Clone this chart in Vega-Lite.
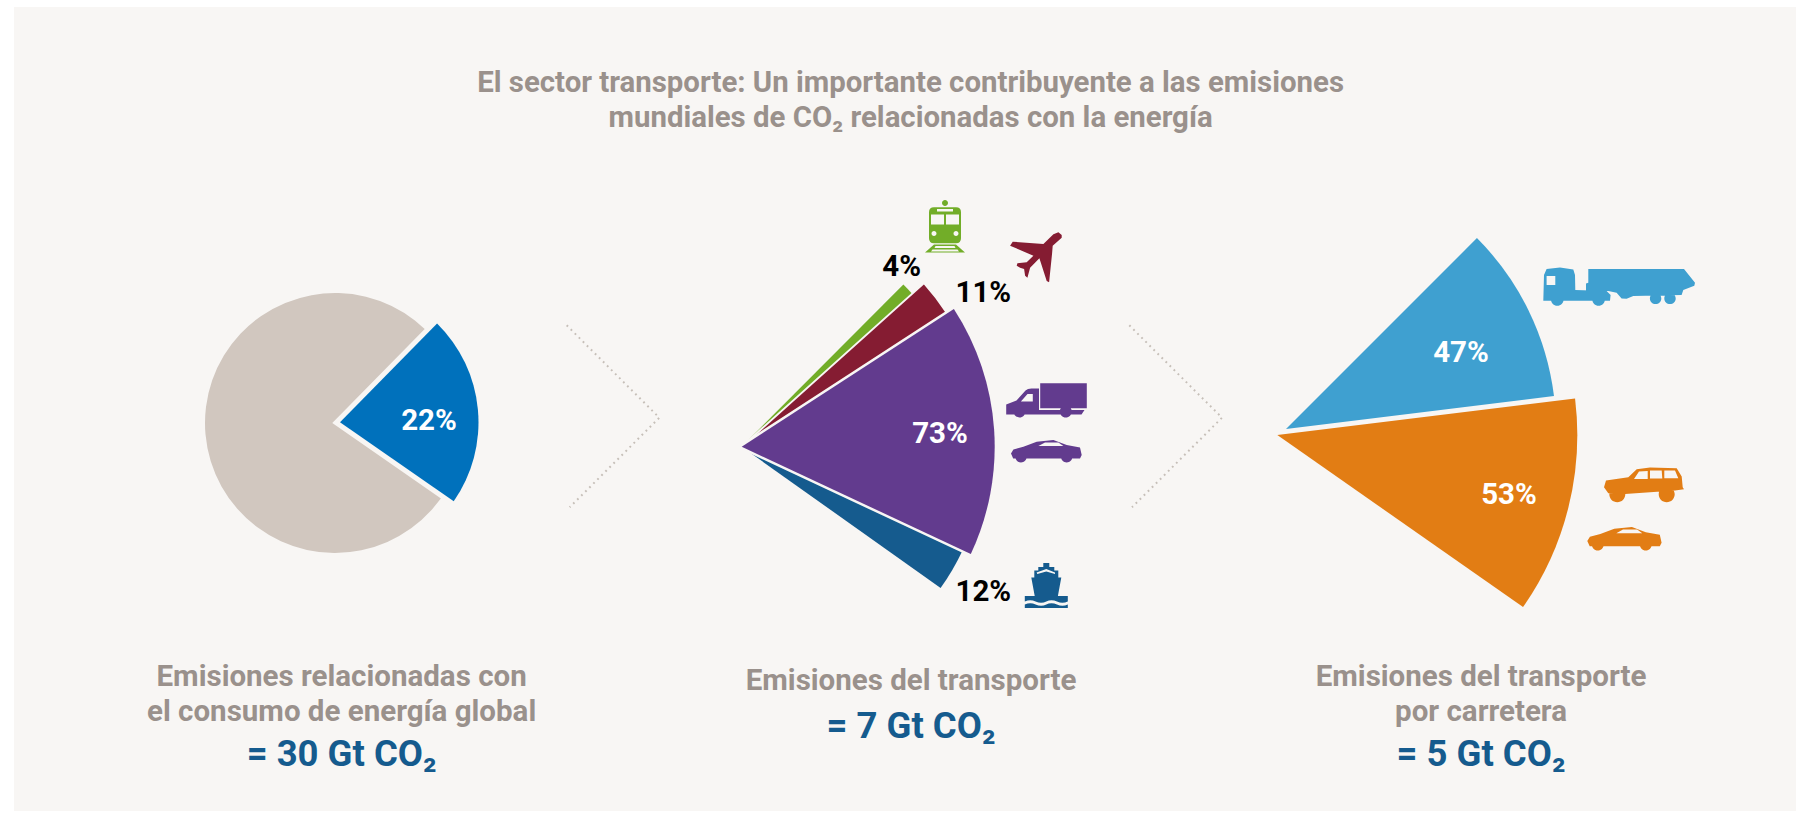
{
"$schema":"https://vega.github.io/schema/vega-lite/v6.json",
"width":1782,"height":804,
"padding":{"left":14,"top":7,"right":0,"bottom":2},
"autosize":{"type":"none"},
"background":"#ffffff",
"view":{"fill":"#f8f6f4","stroke":null},
"config":{"font":"Roboto"},
"datasets":{
"slices":[
{"slot":1,"pie":"Emisiones globales","name":"Otras emisiones","share":78,"from":22,"to":100},
{"slot":2,"pie":"Emisiones globales","name":"Transporte","share":22,"from":0,"to":22},
{"slot":3,"pie":"Transporte","name":"Ferrocarril","share":4,"from":0,"to":4},
{"slot":4,"pie":"Transporte","name":"Aviación","share":11,"from":4,"to":15},
{"slot":6,"pie":"Transporte","name":"Marítimo","share":12,"from":88,"to":100},
{"slot":5,"pie":"Transporte","name":"Carretera","share":73,"from":15,"to":88},
{"slot":7,"pie":"Carretera","name":"Vehículos pesados","share":47,"from":0,"to":47},
{"slot":8,"pie":"Carretera","name":"Vehículos ligeros","share":53,"from":47,"to":100}
],
"pct":[
{"slot":1,"label":"22%","tone":"light"},
{"slot":2,"label":"73%","tone":"light"},
{"slot":3,"label":"4%","tone":"dark"},
{"slot":4,"label":"11%","tone":"dark"},
{"slot":5,"label":"12%","tone":"dark"},
{"slot":6,"label":"47%","tone":"light"},
{"slot":7,"label":"53%","tone":"light"}
],
"titles":[
{"slot":1,"label":"El sector transporte: Un importante contribuyente a las emisiones"},
{"slot":2,"label":"mundiales de CO₂ relacionadas con la energía"}
],
"captions":[
{"slot":1,"label":"Emisiones relacionadas con"},
{"slot":2,"label":"el consumo de energía global"},
{"slot":3,"label":"Emisiones del transporte"},
{"slot":4,"label":"Emisiones del transporte"},
{"slot":5,"label":"por carretera"}
],
"totals":[
{"slot":1,"label":"= 30 Gt CO₂"},
{"slot":2,"label":"= 7 Gt CO₂"},
{"slot":3,"label":"= 5 Gt CO₂"}
],
"chevrons":[
{"slot":1,"chevron":"a"},{"slot":2,"chevron":"a"},{"slot":3,"chevron":"a"},
{"slot":4,"chevron":"b"},{"slot":5,"chevron":"b"},{"slot":6,"chevron":"b"}
],
"icons":[
{"slot":1,"icon":"train"},{"slot":2,"icon":"plane"},{"slot":3,"icon":"truck"},{"slot":4,"icon":"car"},
{"slot":5,"icon":"ship"},{"slot":6,"icon":"tanker"},{"slot":7,"icon":"suv"},{"slot":8,"icon":"orangecar"}
]
},
"layer":[
{"data":{"name":"chevrons"},
 "mark":{"type":"line","stroke":"#c6bfb8","strokeWidth":2,"strokeDash":[1.8,3.9],"clip":false},
 "encoding":{
  "x":{"field":"slot","type":"quantitative","axis":null,"scale":{"domain":[1,2,3,4,5,6],"range":[552.7,645.3,555.7,1115.3,1208,1118],"zero":false,"nice":false}},
  "y":{"field":"slot","type":"quantitative","axis":null,"scale":{"domain":[1,2,3,4,5,6],"range":[318.3,410.7,500.3,318.3,410.7,500.3],"zero":false,"nice":false}},
  "detail":{"field":"chevron"},
  "order":{"field":"slot"}
 }},
{"data":{"name":"slices"},
 "encoding":{
  "x":{"field":"slot","type":"quantitative","axis":null,"scale":{"domain":[1,2,3,4,5,6,7,8],"range":[321,326,727.7,727.7,727.7,727.7,1272,1263.3],"zero":false,"nice":false}},
  "y":{"field":"slot","type":"quantitative","axis":null,"scale":{"domain":[1,2,3,4,5,6,7,8],"range":[416,415.3,439.7,439.7,439.7,439.7,422,428],"zero":false,"nice":false}},
  "radius":{"field":"slot","type":"quantitative","legend":null,"scale":{"type":"linear","domain":[1,2,3,4,5,6,7,8],"range":[130,138.5,229,245,253,244,270,300],"zero":false,"nice":false}},
  "radius2":{"value":0},
  "color":{"field":"name","type":"nominal","legend":null,"scale":{"domain":["Otras emisiones","Transporte","Ferrocarril","Aviación","Carretera","Marítimo","Vehículos pesados","Vehículos ligeros"],"range":["#d1c7bf","#0071bc","#72ad28","#851c32","#623b8e","#155b8e","#3fa0d0","#e27d14"]}},
  "theta":{"field":"from","type":"quantitative"},
  "theta2":{"field":"to"}
 },
 "layer":[
  {"transform":[{"filter":"datum.slot==1"}],"mark":{"type":"arc"},
   "encoding":{"theta":{"field":"from","type":"quantitative","scale":{"domain":[22,100],"range":[2.094,7.156]}}}},
  {"transform":[{"filter":"datum.slot==2"}],"mark":{"type":"arc","stroke":"#f8f6f4","strokeWidth":10},
   "encoding":{"theta":{"field":"from","type":"quantitative","scale":{"domain":[0,22],"range":[0.7767,2.178]}}}},
  {"transform":[{"filter":"datum.slot==2"}],"mark":{"type":"arc"},
   "encoding":{"theta":{"field":"from","type":"quantitative","scale":{"domain":[0,22],"range":[0.7767,2.178]}}}},
  {"transform":[{"filter":"datum.slot==3"}],"mark":{"type":"arc"},
   "encoding":{"theta":{"field":"from","type":"quantitative","scale":{"domain":[0,4,15,88,100],"range":[0.7837,0.8395,0.9948,2.0089,2.1886]}}}},
  {"transform":[{"filter":"datum.slot==4"}],"mark":{"type":"arc","stroke":"#f8f6f4","strokeWidth":2},
   "encoding":{"theta":{"field":"from","type":"quantitative","scale":{"domain":[0,4,15,88,100],"range":[0.7837,0.8395,0.9948,2.0089,2.1886]}}}},
  {"transform":[{"filter":"datum.slot==6"}],"mark":{"type":"arc"},
   "encoding":{"theta":{"field":"from","type":"quantitative","scale":{"domain":[0,4,15,88,100],"range":[0.7837,0.8395,0.9948,2.0089,2.1886]}}}},
  {"transform":[{"filter":"datum.slot==5"}],"mark":{"type":"arc","stroke":"#f8f6f4","strokeWidth":5},
   "encoding":{"theta":{"field":"from","type":"quantitative","scale":{"domain":[0,4,15,88,100],"range":[0.7837,0.8395,0.9948,2.0089,2.1886]}}}},
  {"transform":[{"filter":"datum.slot==5"}],"mark":{"type":"arc"},
   "encoding":{"theta":{"field":"from","type":"quantitative","scale":{"domain":[0,4,15,88,100],"range":[0.7837,0.8395,0.9948,2.0089,2.1886]}}}},
  {"transform":[{"filter":"datum.slot>=7"}],"mark":{"type":"arc"},
   "encoding":{"theta":{"field":"from","type":"quantitative","scale":{"domain":[0,47,100],"range":[0.7854,1.4486,2.1817]}}}}
 ],
 "resolve":{"scale":{"theta":"independent"}}
},
{"data":{"name":"icons"},
 "mark":{"type":"point","filled":true,"size":4,"opacity":1,"strokeWidth":0},
 "encoding":{
  "x":{"field":"slot","type":"quantitative","axis":null,"scale":{"domain":[1,2,3,4,5,6,7,8],"range":[931,1022.4,1032.5,1032.2,1032.3,1604.8,1630,1610.3],"zero":false,"nice":false}},
  "y":{"field":"slot","type":"quantitative","axis":null,"scale":{"domain":[1,2,3,4,5,6,7,8],"range":[219.5,250.5,393.4,444.4,578.5,279.7,477.8,531.9],"zero":false,"nice":false}},
  "color":{"field":"icon","type":"nominal","legend":null,"scale":{"domain":["train","plane","truck","car","ship","tanker","suv","orangecar"],"range":["#72ad28","#851c32","#623b8e","#623b8e","#155b8e","#3fa0d0","#e27d14","#e27d14"]}},
  "shape":{"field":"icon","type":"nominal","legend":null,"scale":{"domain":["train","plane","truck","car","ship","tanker","suv","orangecar"],"range":[
"M-11,-19.3 H11 Q16,-19.3 16,-14.3 V11.7 Q16,16.7 11,16.7 H-11 Q-16,16.7 -16,11.7 V-14.3 Q-16,-19.3 -11,-19.3 Z M-14,-12 V-2 H-1 V-12 Z M1,-12 V-2 H14 V-12 Z M-8,-17.5 V-15 H8 V-17.5 Z M-13.5,7 a2.5,2.5 0 1 0 5,0 a2.5,2.5 0 1 0 -5,0 Z M8.5,7 a2.5,2.5 0 1 0 5,0 a2.5,2.5 0 1 0 -5,0 Z M-3,-23.5 a3,3 0 1 1 6,0 a3,3 0 1 1 -6,0 Z M-11,18 L11,18 L20,26 L-20,26 Z M-9.5,19.5 L-10.5,21.5 L10.5,21.5 L9.5,19.5 Z M-12.5,23 L-14,25 L14,25 L12.5,23 Z",
"M22,-25.2 L25.3,-22.5 L25.3,-19.8 L16.3,-11.8 L15.7,-4.2 L12.7,24.8 L10.3,23.5 L3,0.8 L-6.3,10.2 L-9,20.2 L-11.3,18.2 L-12.3,11.5 L-16.3,10.2 L-19.7,8.2 L-19,5.8 L-9.7,4.8 L-3,-1.8 L-26.3,-11.8 L-23.7,-15.8 L7,-13.5 L17,-23.2 Z",
"M-6.3,-17.2 H40.3 V7.8 H-6.3 Z M-40.3,4 L-30,0 L-21,-10 Q-19,-12 -15,-12 H-7.5 V9.5 H38 L35,14 H-40.3 Z M-25.6,1.2 H-13.7 V-6.5 H-19 Z M-33,11 a6,6 0 1 1 12,0 a6,6 0 1 1 -12,0 Z M13.3,11 a6,6 0 1 1 12,0 a6,6 0 1 1 -12,0 Z",
"M-35.2,2 L-32.8,-2 L-22.8,-4.7 L-9.5,-9.7 L7.2,-11.3 L20.5,-6.3 L33.8,-4 L35.5,3.7 L33.8,7 L-33,7 Z M-7.8,-5.3 H17.2 L12.2,-9 H-1.2 Z M-30.9,5.3 a5.7,5.7 0 1 1 11.4,0 a5.7,5.7 0 1 1 -11.4,0 Z M14.8,5.3 a5.7,5.7 0 1 1 11.4,0 a5.7,5.7 0 1 1 -11.4,0 Z",
"M-3,-22.5 H3 V-18.5 H8 V-15 H12 V-8 H15 L11.5,11 H-11.5 L-15,-8 H-12 V-15 H-8 V-18.5 H-3 Z M-9,-11.5 L0,-14 L8.7,-11.5 L8.7,-13 L0,-16.5 L-9.7,-13 Z M-21.5,10.5 H21.5 V16 Q16,18.5 10.7,16 Q5,13.5 0,16 Q-5,18.5 -10.7,16 Q-16,13.5 -21.5,16 Z M-21.5,19 Q-16,16.5 -10.7,19 Q-5,21.5 0,19 Q5,16.5 10.7,19 Q16,21.5 21.5,19 V22.5 H-21.5 Z",
"M-75.5,14 L-74.8,-11.7 L-72.2,-17.7 L-58.8,-19.3 L-45.5,-17.3 L-43.8,-11.7 L-43.5,3.3 L-12.2,4.3 L-8.2,8.3 L-8.8,14 Z M-72.2,-10.7 V-1.7 H-63.5 V-10.7 Z M-67.8,12.7 a6.3,6.3 0 1 1 12.6,0 a6.3,6.3 0 1 1 -12.6,0 Z M-26.5,12.7 a6.3,6.3 0 1 1 12.6,0 a6.3,6.3 0 1 1 -12.6,0 Z M-30.5,-17.7 L65.2,-17.7 L76.2,-4 L75.5,-1 L64.5,3.3 L62.8,8.3 L14.5,9.3 L7.8,12 L2.8,11.7 L-2.2,6 L-10.5,4.3 L-32.8,4 L-32.8,-3.3 L-30.5,-4 Z M31.1,11.7 a5.7,5.7 0 1 1 11.4,0 a5.7,5.7 0 1 1 -11.4,0 Z M45.5,11.7 a5.7,5.7 0 1 1 11.4,0 a5.7,5.7 0 1 1 -11.4,0 Z",
"M-40,2.5 L-38,-4.2 L-15.7,-7.5 L-7.3,-15.5 L6,-17.2 L32.7,-16.5 L37.7,-8.2 L38.7,2.5 L40,4.5 L31,5.8 L-19,9.2 L-35.7,8.5 Z M-10,-5.8 L3.7,-5.8 L3.7,-13.8 L-5,-13.2 Z M6,-6.2 L18.3,-6.2 L17.7,-14.2 L6,-14.2 Z M20.3,-6.5 L34.3,-6.5 L31,-14.2 L20.3,-14.2 Z M-34.7,9.5 a8,8 0 1 1 16,0 a8,8 0 1 1 -16,0 Z M14.7,9.5 a8,8 0 1 1 16,0 a8,8 0 1 1 -16,0 Z",
"M-37,2.1 L-34.4,-2.1 L-24,-5 L-10,-10.2 L7.6,-11.9 L21.5,-6.6 L35.5,-4.2 L37.3,3.9 L35.5,7.4 L-34.6,7.4 Z M-8,-5.6 H18 L12.8,-9.5 H-1.3 Z M-32.5,5.7 a6,6 0 1 1 12,0 a6,6 0 1 1 -12,0 Z M15.5,5.7 a6,6 0 1 1 12,0 a6,6 0 1 1 -12,0 Z"
]}}
 }},
{"data":{"name":"pct"},
 "mark":{"type":"text","font":"Roboto","fontWeight":"bold","fontSize":29.5,"align":"center","baseline":"middle"},
 "encoding":{
  "x":{"field":"slot","type":"quantitative","axis":null,"scale":{"domain":[1,2,3,4,5,6,7],"range":[415,926,887.7,969.3,969.3,1447,1495],"zero":false,"nice":false}},
  "y":{"field":"slot","type":"quantitative","axis":null,"scale":{"domain":[1,2,3,4,5,6,7],"range":[414,427,260,286,585,346,488],"zero":false,"nice":false}},
  "text":{"field":"label"},
  "color":{"field":"tone","type":"nominal","legend":null,"scale":{"domain":["light","dark"],"range":["#ffffff","#000000"]}}
 }},
{"data":{"name":"titles"},
 "mark":{"type":"text","font":"Roboto","fontWeight":"bold","fontSize":29.4,"align":"center","baseline":"middle","color":"#9a918c"},
 "encoding":{
  "x":{"field":"slot","type":"quantitative","axis":null,"scale":{"domain":[1,2],"range":[896.6,896.6],"zero":false,"nice":false}},
  "y":{"field":"slot","type":"quantitative","axis":null,"scale":{"domain":[1,2],"range":[76,111],"zero":false,"nice":false}},
  "text":{"field":"label"}
 }},
{"data":{"name":"captions"},
 "mark":{"type":"text","font":"Roboto","fontWeight":"bold","fontSize":29.5,"align":"center","baseline":"middle","color":"#9a918c"},
 "encoding":{
  "x":{"field":"slot","type":"quantitative","axis":null,"scale":{"domain":[1,2,3,4,5],"range":[327.6,327.6,897,1467,1467],"zero":false,"nice":false}},
  "y":{"field":"slot","type":"quantitative","axis":null,"scale":{"domain":[1,2,3,4,5],"range":[669.7,704.7,674,669.7,704.7],"zero":false,"nice":false}},
  "text":{"field":"label"}
 }},
{"data":{"name":"totals"},
 "mark":{"type":"text","font":"Roboto","fontWeight":"bold","fontSize":36.5,"align":"center","baseline":"middle","color":"#155b8e"},
 "encoding":{
  "x":{"field":"slot","type":"quantitative","axis":null,"scale":{"domain":[1,2,3],"range":[327.6,897,1467],"zero":false,"nice":false}},
  "y":{"field":"slot","type":"quantitative","axis":null,"scale":{"domain":[1,2,3],"range":[748,720,748],"zero":false,"nice":false}},
  "text":{"field":"label"}
 }}
],
"resolve":{"scale":{"x":"independent","y":"independent","color":"independent","shape":"independent","radius":"independent","theta":"independent"}}
}
